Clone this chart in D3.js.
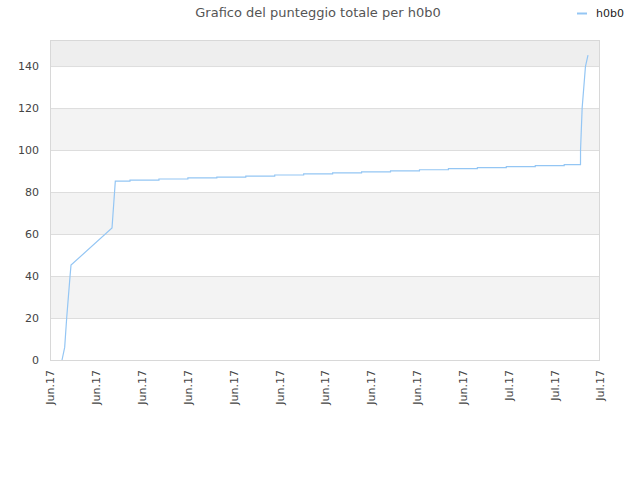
<!DOCTYPE html>
<html><head><meta charset="utf-8">
<script src="https://cdn.jsdelivr.net/npm/d3@7"></script>
<style>body{margin:0;background:#fff;} text{font-family:"DejaVu Sans",sans-serif;}</style>
</head><body><svg id="c" width="640" height="480"></svg>
<script>
const title = "Grafico del punteggio totale per h0b0";
const seriesName = "h0b0";
const tickLabels = ["Jun.17","Jun.17","Jun.17","Jun.17","Jun.17","Jun.17","Jun.17","Jun.17","Jun.17","Jun.17","Jul.17","Jul.17","Jul.17"];
const yTicks = [0,20,40,60,80,100,120,140];
const times = [
 "2017-06-16T09:58","2017-06-16T12:10","2017-06-16T13:50","2017-06-16T16:35","2017-06-16T17:25",
 "2017-06-18T03:25","2017-06-18T06:09",
 "2017-06-18T18:19","2017-06-18T18:20","2017-06-19T18:19","2017-06-19T18:20",
 "2017-06-20T18:19","2017-06-20T18:20","2017-06-21T18:19","2017-06-21T18:20",
 "2017-06-22T18:19","2017-06-22T18:20","2017-06-23T18:19","2017-06-23T18:20",
 "2017-06-24T18:19","2017-06-24T18:20","2017-06-25T18:19","2017-06-25T18:20",
 "2017-06-26T18:19","2017-06-26T18:20","2017-06-27T18:19","2017-06-27T18:20",
 "2017-06-28T18:19","2017-06-28T18:20","2017-06-29T18:19","2017-06-29T18:20",
 "2017-06-30T18:19","2017-06-30T18:20","2017-07-01T18:19","2017-07-01T18:20",
 "2017-07-02T18:19","2017-07-02T18:20","2017-07-03T18:19","2017-07-03T18:20",
 "2017-07-04T07:50","2017-07-04T07:52","2017-07-04T09:12","2017-07-04T11:56","2017-07-04T14:03"
];
const scores = [
 0,6,20,39.7,45.2,
 62.9,85.2,
 85.2,85.7,85.7,86.2,
 86.2,86.7,86.7,87.1,
 87.1,87.6,87.6,88.1,
 88.1,88.6,88.6,89.1,
 89.1,89.6,89.6,90.1,
 90.1,90.6,90.6,91.1,
 91.1,91.6,91.6,92.1,
 92.1,92.6,92.6,93.0,
 93.0,100,120,139.7,145.2
];
const domainStart = "2017-06-16T00:00", domainEnd = "2017-07-05T00:00";

const svg = d3.select("#c");
const m = {l:50, r:40, t:40, b:120};
const W = 640, H = 480;
const parse = d3.isoParse;
const x = d3.scaleTime().domain([parse(domainStart), parse(domainEnd)]).range([m.l, W-m.r]);
const y = d3.scaleLinear().domain([0, 152.4]).range([H-m.b, m.t]);
const data = times.map((t,i)=>({t:parse(t), v:scores[i]}));

// bands
const bandEdges = yTicks.concat([y.domain()[1]]);
for (let i=0;i<bandEdges.length-1;i++){
  const fill = (i===bandEdges.length-2) ? "#eeeeee" : (i%2===1 ? "#f3f3f3" : "#ffffff");
  svg.append("rect").attr("x",m.l).attr("width",W-m.r-m.l)
    .attr("y",y(bandEdges[i+1])).attr("height",y(bandEdges[i])-y(bandEdges[i+1])).attr("fill",fill);
}
// grid
svg.append("g").selectAll("line").data(yTicks).join("line")
  .attr("x1",m.l).attr("x2",W-m.r).attr("y1",d=>y(d)+0.5).attr("y2",d=>y(d)+0.5)
  .attr("stroke","#dddddd");
// border
svg.append("rect").attr("x",m.l+0.5).attr("y",m.t+0.5).attr("width",W-m.r-m.l-1).attr("height",H-m.b-m.t)
  .attr("fill","none").attr("stroke","#d8d8d8");

// y axis labels
svg.append("g").selectAll("text").data(yTicks).join("text")
  .attr("x",m.l-11).attr("y",d=>y(d)).attr("dy","0.35em").attr("text-anchor","end")
  .attr("font-size",11).attr("fill","#444").text(d=>d);

// x axis
const t0 = x.domain()[0].getTime(), t1 = x.domain()[1].getTime();
const xTicks = d3.range(tickLabels.length).map(i=>new Date(t0 + (t1-t0)*i/(tickLabels.length-1)));
const xa = svg.append("g").attr("transform",`translate(0,${H-m.b})`)
  .call(d3.axisBottom(x).tickValues(xTicks).tickFormat((d,i)=>tickLabels[i]).tickSize(0));
xa.select(".domain").remove();
xa.selectAll("text").attr("font-size",11).attr("fill","#444").attr("font-family","DejaVu Sans, sans-serif")
  .attr("text-anchor","end").attr("transform","rotate(-90)").attr("x",-10).attr("y",0).attr("dy","0.35em");

// line
svg.append("path").datum(data)
  .attr("d", d3.line().x(d=>x(d.t)).y(d=>y(d.v)))
  .attr("fill","none").attr("stroke","#94c6f4").attr("stroke-width",1.2);

// title
svg.append("text").attr("x",318).attr("y",17).attr("text-anchor","middle")
  .attr("font-size",13).attr("fill","#555").text(title);
// legend
svg.append("line").attr("x1",577).attr("x2",587).attr("y1",13.5).attr("y2",13.5)
  .attr("stroke","#94c6f4").attr("stroke-width",2);
svg.append("text").attr("x",596).attr("y",13).attr("dy","0.35em").attr("font-size",11)
  .attr("fill","#222").text(seriesName);
</script></body></html>
